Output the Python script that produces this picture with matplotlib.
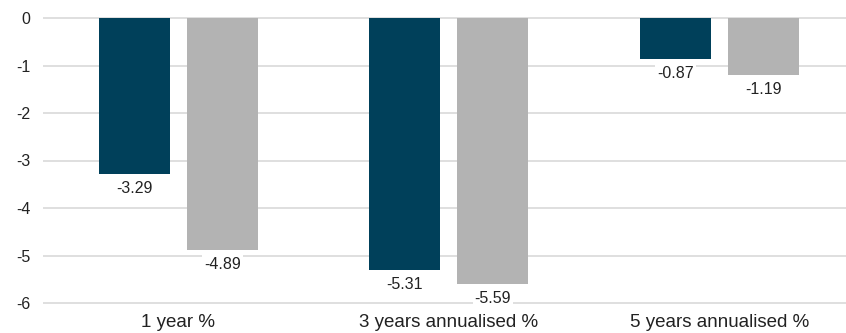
import matplotlib
matplotlib.use("Agg")
import matplotlib.pyplot as plt
from matplotlib import font_manager
import numpy as np

categories = ["1 year %", "3 years annualised %", "5 years annualised %"]
series_a = [-3.29, -5.31, -0.87]
series_b = [-4.89, -5.59, -1.19]
yticks = [0, -1, -2, -3, -4, -5, -6]

names = {f.name for f in font_manager.fontManager.ttflist}
fam = "Liberation Sans Narrow" if "Liberation Sans Narrow" in names else "Liberation Sans"
plt.rcParams['font.family'] = [fam, 'DejaVu Sans']

W, H = 846, 333
fig = plt.figure(figsize=(W/100, H/100), dpi=100)
ppu = 47.5
y0 = 18
ytop, ybot = 0.3, -6.2
top_px = y0 - ytop*ppu
bot_px = y0 - ybot*ppu
ax = fig.add_axes([43/W, (H-bot_px)/H, (W-43)/W, (bot_px-top_px)/H])

x = np.arange(len(categories))
off = 0.163
bw = 0.262
dark = "#00405a"
grey = "#b3b3b3"
ax.bar(x - off, series_a, bw, color=dark, zorder=3)
ax.bar(x + off, series_b, bw, color=grey, zorder=3)

for xi, v in zip(x - off, series_a):
    ax.text(xi, v - 0.15, f"{v:.2f}", ha="center", va="top", fontsize=11.5, color="#222222",
            bbox=dict(facecolor="white", edgecolor="none", pad=1.5), zorder=4)
for xi, v in zip(x + off, series_b):
    ax.text(xi, v - 0.15, f"{v:.2f}", ha="center", va="top", fontsize=11.5, color="#222222",
            bbox=dict(facecolor="white", edgecolor="none", pad=1.5), zorder=4)

ax.set_xlim(-0.5, -0.5 + (W-43)/270.5)
ax.set_ylim(ybot, ytop)
ax.set_yticks(yticks)
ax.set_yticklabels([str(t) for t in yticks], fontsize=11.5, color="#222222")
ax.yaxis.grid(True, color="#d9d9d9", linewidth=1.2, zorder=0)
ax.set_xticks(x)
ax.set_xticklabels(categories, fontsize=13.5, color="#222222")
ax.tick_params(axis="both", length=0)
ax.tick_params(axis="y", pad=9)
ax.tick_params(axis="x", pad=1)
for s in ax.spines.values():
    s.set_visible(False)

fig.savefig("out.png", dpi=100)
